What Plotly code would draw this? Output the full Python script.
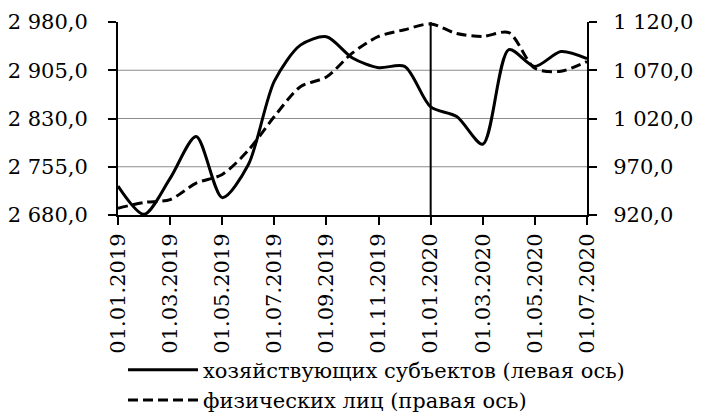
import plotly.graph_objects as go

dates = ["01.01.2019", "01.02.2019", "01.03.2019", "01.04.2019", "01.05.2019", "01.06.2019",
         "01.07.2019", "01.08.2019", "01.09.2019", "01.10.2019", "01.11.2019", "01.12.2019",
         "01.01.2020", "01.02.2020", "01.03.2020", "01.04.2020", "01.05.2020", "01.06.2020",
         "01.07.2020"]
entities = [2725, 2681, 2737, 2802, 2707, 2758, 2888, 2944, 2957, 2924, 2909, 2911,
            2848, 2833, 2790, 2937, 2911, 2934, 2923]
individuals = [927, 933, 936, 953, 962, 987, 1022, 1053, 1063, 1088, 1105, 1112,
               1118, 1108, 1105, 1109, 1072, 1069, 1079]
left_ticks = [2680, 2755, 2830, 2905, 2980]
right_ticks = [920, 970, 1020, 1070, 1120]
marker_date = "01.01.2020"

def fmt(v):
    return f"{v:,.1f}".replace(",", " ").replace(".", ",")

FONT = "DejaVu Serif"

fig = go.Figure()
fig.add_trace(go.Scatter(x=dates, y=entities, name="хозяйствующих субъектов (левая ось)",
                         mode="lines", line=dict(color="black", width=3, shape="spline", smoothing=0.8),
                         yaxis="y"))
fig.add_trace(go.Scatter(x=dates, y=individuals, name="физических лиц (правая ось)",
                         mode="lines", line=dict(color="black", width=3, dash="10px,5px",
                                                 shape="spline", smoothing=0.8),
                         yaxis="y2"))

shapes = []
for v in left_ticks[1:-1]:
    shapes.append(dict(type="line", xref="paper", x0=0, x1=1, yref="y", y0=v, y1=v,
                       line=dict(color="#8c8c8c", width=1), layer="below"))
shapes.append(dict(type="line", xref="x", x0=marker_date, x1=marker_date, yref="paper", y0=0, y1=1,
                   line=dict(color="black", width=2)))

fig.update_layout(
    width=699, height=411,
    margin=dict(l=110, r=120, t=14, b=204, pad=0, autoexpand=False),
    paper_bgcolor="white", plot_bgcolor="white",
    font=dict(family=FONT, size=21, color="black"),
    showlegend=True,
    legend=dict(orientation="v", x=0.0107, xanchor="left", y=-0.697, yanchor="top",
                font=dict(family=FONT, size=21, color="black"), itemwidth=70,
                tracegroupgap=0, bgcolor="rgba(0,0,0,0)"),
    xaxis=dict(type="category", range=[0, len(dates) - 1], tickvals=dates[::2], ticktext=dates[::2],
               tickangle=-90, showline=True, linecolor="black", linewidth=2, ticks="outside",
               ticklen=8, tickwidth=2, tickcolor="black", showgrid=False, zeroline=False,
               ticklabelstandoff=0, tickfont=dict(family=FONT, size=21)),
    yaxis=dict(range=[left_ticks[0], left_ticks[-1]], tickvals=left_ticks,
               ticktext=[fmt(v) for v in left_ticks], showline=True, linecolor="black", linewidth=2,
               ticks="outside", ticklen=8, tickwidth=2, tickcolor="black", showgrid=False,
               zeroline=False, ticklabelstandoff=16, tickfont=dict(family=FONT, size=21)),
    yaxis2=dict(range=[right_ticks[0], right_ticks[-1]], tickvals=right_ticks,
                ticktext=[fmt(v) for v in right_ticks], overlaying="y", side="right",
                showline=True, linecolor="black", linewidth=2, ticks="outside", ticklen=8,
                tickwidth=2, tickcolor="black", showgrid=False, zeroline=False,
                ticklabelstandoff=12, tickfont=dict(family=FONT, size=21)),
    shapes=shapes,
)

fig.write_html("out.html")
